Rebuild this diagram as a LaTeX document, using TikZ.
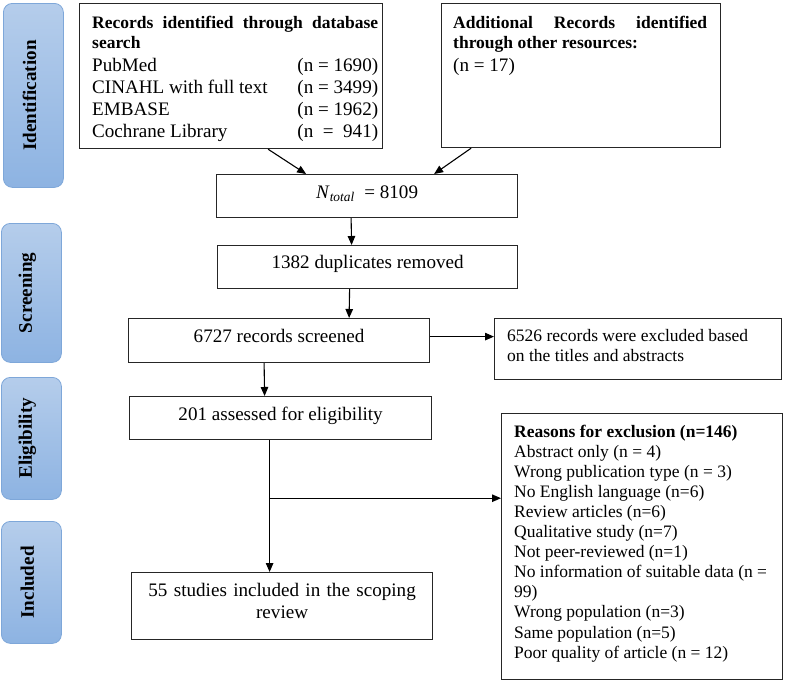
\documentclass[tikz,border=0pt]{standalone}
\usepackage{fontspec}
\setmainfont{Liberation Serif}
\usetikzlibrary{calc,arrows.meta}
\definecolor{barTop}{HTML}{B5CDEB}
\definecolor{barBot}{HTML}{8DB3E2}
\definecolor{barLine}{HTML}{7EA7D9}
\newcommand\bighead{\fontsize{19.1}{22}\selectfont}
\newcommand\smallhead{\fontsize{17.5}{20.1}\selectfont}
\tikzset{
  box/.style={draw=black!85, line width=1.2pt, inner sep=0pt, anchor=north west},
  txt/.style={inner sep=0pt, anchor=base west, align=flush left, font=\smallhead},
  bigtxt/.style={inner sep=0pt, anchor=base west, align=flush left, font=\bighead},
  ctxt/.style={inner sep=0pt, anchor=base, align=center, font=\bighead},
  bar/.style={rounded corners=9pt, top color=barTop, bottom color=barBot,
    draw=barLine, line width=0.8pt, inner sep=0pt, anchor=north west, minimum width=60pt},
  barlabel/.style={rotate=90, inner sep=0pt, font=\fontsize{19.1}{22}\selectfont\bfseries},
  arr/.style={line width=1.1pt, -{Triangle[length=9pt,width=7.5pt]}},
  ln/.style={line width=1.1pt}
}
\begin{document}
\begin{tikzpicture}[x=1pt,y=-1pt]
\useasboundingbox (0,0) rectangle (787,683);
% phase bars
\node[bar, minimum height=184pt] (idb) at (3,3) {};
\node[barlabel] (idl) at ($(idb.center)+(-4,0)$) {Identification};
\node[bar, minimum height=139pt] (scb) at (1,223) {};
\node[barlabel] (scl) at ($(scb.center)+(-4,0)$) {Screening};
\node[bar, minimum height=122pt] (elb) at (1,377) {};
\node[barlabel] (ell) at ($(elb.center)+(-4,0)$) {Eligibility};
\node[bar, minimum height=122pt] (inb) at (1,521) {};
\node[barlabel] (inl) at ($(inb.center)+(-4,0)$) {Included};
% boxes
\node[box, minimum width=303pt, minimum height=145pt] (b1) at (79,3) {};
\node[bigtxt, text width=286pt] (b1t) at (92,28) {%
{\smallhead\makebox[\linewidth][s]{\bfseries Records identified through database}}\\[-2pt]
{\smallhead\bfseries search}\\[1pt]
PubMed\hfill(n = 1690)\\
CINAHL with full text\hfill(n = 3499)\\
EMBASE\hfill(n = 1962)\\
Cochrane Library\hfill(n\ \ =\ \ 941)};
\node[box, minimum width=279pt, minimum height=144pt] (b2) at (441,3) {};
\node[bigtxt, text width=254pt] (b2t) at (453,28) {%
{\smallhead\makebox[\linewidth][s]{\bfseries Additional Records identified}}\\[-2pt]
{\smallhead\bfseries through other resources:}\\[1pt]
(n = 17)};
\node[box, minimum width=301pt, minimum height=43pt] (nt) at (216,174) {};
\node[ctxt] (ntt) at ($(nt.center)+(0,2.5)$) {\textit{N}\textsubscript{\textit{total}}\ \ = 8109};
\node[box, minimum width=300pt, minimum height=43pt] (du) at (217,245) {};
\node[ctxt] (dut) at ($(du.center)+(0,1.5)$) {1382 duplicates removed};
\node[box, minimum width=301pt, minimum height=44pt] (sc) at (128,318) {};
\node[ctxt] (sct) at ($(sc.center)+(0,2)$) {6727 records screened};
\node[box, minimum width=287pt, minimum height=61pt] (ex) at (494,318) {};
\node[txt, text width=270pt] (ext) at (507,341) {6526 records were excluded based\\on the titles and abstracts};
\node[box, minimum width=302pt, minimum height=43pt] (el) at (129,396) {};
\node[ctxt] (elt) at ($(el.center)+(0,2.5)$) {201 assessed for eligibility};
\node[box, minimum width=301pt, minimum height=67pt] (ic) at (131,572) {};
\node[ctxt, text width=301pt] (ict) at ($(ic.north)+(0,24)$) {55 studies included in the scoping\\review};
\node[box, minimum width=281pt, minimum height=266pt] (rs) at (501,413) {};
\node[txt, text width=265pt] (rst) at (514,437) {%
\textbf{Reasons for exclusion (n=146)}\\
Abstract only (n = 4)\\
Wrong publication type (n = 3)\\
No English language (n=6)\\
Review articles (n=6)\\
Qualitative study (n=7)\\
Not peer-reviewed (n=1)\\
No information of suitable data (n =\\
99)\\
Wrong population (n=3)\\
Same population (n=5)\\
Poor quality of article (n = 12)};
% connectors
\draw[arr] ($(b1.south)+(37,0)$) -- ($(nt.north)+(-61,0)$);
\draw[arr] ($(b2.south)+(-110,0)$) -- ($(nt.north)+(67,0)$);
\draw[arr] ($(nt.south)+(-16,0)$) -- ($(du.north)+(-16,0)$);
\draw[arr] ($(du.south)+(-18,0)$) -- ($(sc.north)+(70,0)$);
\coordinate (scx) at ($(sc.east)+(0,-4)$);
\draw[arr] (scx) -- (scx -| ex.west);
\draw[arr] ($(sc.south)+(-15,0)$) -- ($(el.north)+(-16,0)$);
\coordinate (elb0) at ($(el.south)+(-11,0)$);
\coordinate (br) at ($(el.south)+(-11,58)$);
\draw[ln] (elb0) -- (br);
\draw[arr] (br) -- (br |- ic.north);
\draw[arr] (br) -- (br -| rs.west);
\end{tikzpicture}
\end{document}
